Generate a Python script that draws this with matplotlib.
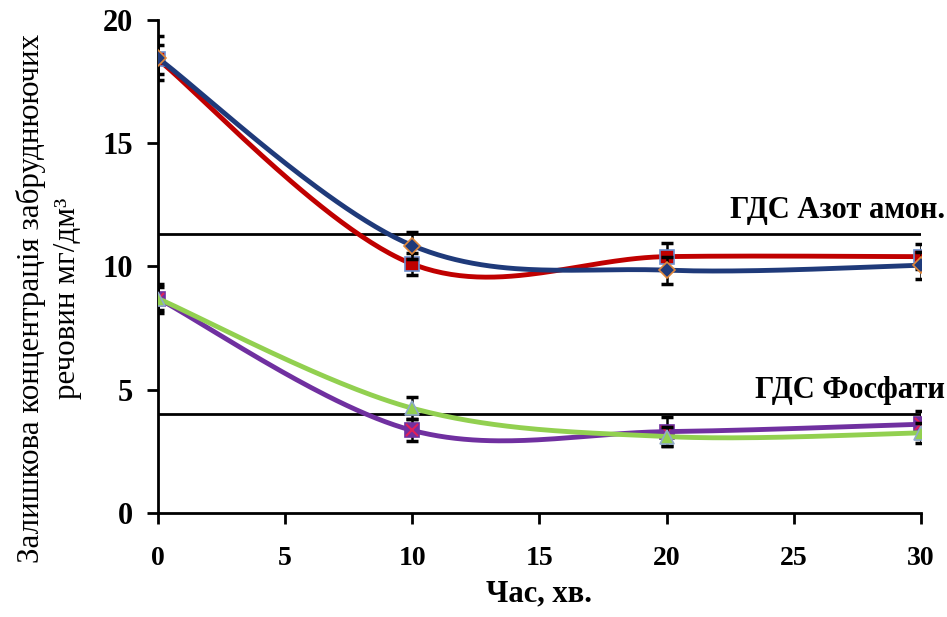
import numpy as np
import matplotlib
matplotlib.use('Agg')
import matplotlib.pyplot as plt

plt.rcParams['font.family'] = ['Liberation Serif', 'DejaVu Serif']

# Дані
time_min = [0, 10, 20, 30]
nitrogen_1 = [18.45, 10.85, 9.85, 10.05]   # синя крива
nitrogen_2 = [18.4, 10.1, 10.4, 10.4]      # червона крива
phosphate_1 = [8.7, 3.35, 3.3, 3.6]        # фіолетова крива
phosphate_2 = [8.7, 4.25, 3.1, 3.25]       # зелена крива
err_nitrogen_1 = [0.9, 0.55, 0.55, 0.55]
err_nitrogen_2 = [0.6, 0.45, 0.55, 0.5]
err_phosphate_1 = [0.6, 0.45, 0.6, 0.55]
err_phosphate_2 = [0.45, 0.45, 0.4, 0.4]
limit_nitrogen = 11.3
limit_phosphate = 4.0


def smooth(x, y, n=60):
    # згладжування як у Excel (Catmull-Rom через криві Безьє)
    x = np.asarray(x, float)
    y = np.asarray(y, float)
    px = np.concatenate([[x[0]], x, [x[-1]]])
    py = np.concatenate([[y[0]], y, [y[-1]]])
    t = np.linspace(0, 1, n)
    xs, ys = [], []
    for i in range(1, len(px) - 2):
        p0 = np.array([px[i], py[i]])
        p3 = np.array([px[i + 1], py[i + 1]])
        p1 = p0 + (np.array([px[i + 1], py[i + 1]]) - np.array([px[i - 1], py[i - 1]])) / 6
        p2 = p3 - (np.array([px[i + 2], py[i + 2]]) - np.array([px[i], py[i]])) / 6
        b = ((1 - t) ** 3)[:, None] * p0 + (3 * (1 - t) ** 2 * t)[:, None] * p1 \
            + (3 * (1 - t) * t ** 2)[:, None] * p2 + (t ** 3)[:, None] * p3
        xs.append(b[:, 0])
        ys.append(b[:, 1])
    return np.concatenate(xs), np.concatenate(ys)


fig = plt.figure(figsize=(9.47, 6.17), dpi=100)
ax = fig.add_axes([0.1668, 0.1686, 0.8057, 0.799])

ax.hlines([limit_nitrogen, limit_phosphate], 0, 30, color='black', lw=2, zorder=2)

series = [
    (nitrogen_2, err_nitrogen_2, '#C00000', 's', '#C00000', '#6A8FCF', 10),
    (nitrogen_1, err_nitrogen_1, '#1F3A7A', 'D', '#1F3A7A', '#E0873A', 8),
    (phosphate_1, err_phosphate_1, '#7030A0', 's', '#7030A0', '#7030A0', 10),
    (phosphate_2, err_phosphate_2, '#92D050', '^', '#92D050', '#8EA9C8', 10),
]
z = 3
for vals, err, col, mk, fc, ec, ms in series:
    ax.errorbar(time_min, vals, yerr=err, fmt='none', ecolor='black',
                elinewidth=1.8, capsize=4, capthick=2.5, zorder=z)
    sx, sy = smooth(time_min, vals)
    ax.plot(sx, sy, color=col, lw=3.5, zorder=z + 1)
    ax.plot(time_min, vals, ls='none', marker=mk, ms=ms, mfc=fc, mec=ec,
            mew=1.2, zorder=z + 2)
    if col == '#7030A0':
        ax.plot(time_min, vals, ls='none', marker='x', ms=9, mec='#E0205A',
                mew=1.5, zorder=z + 2)
    z += 3

ax.text(30.95, limit_nitrogen + 0.65, 'ГДС Азот амон.', ha='right', va='baseline',
        fontsize=22, fontweight='bold')
ax.text(30.95, limit_phosphate + 0.65, 'ГДС Фосфати', ha='right', va='baseline',
        fontsize=22, fontweight='bold')

ax.set_xlim(0, 30)
ax.set_ylim(0, 20)
ax.set_xticks([0, 5, 10, 15, 20, 25, 30])
ax.set_yticks([0, 5, 10, 15, 20])
for s in ['top', 'right']:
    ax.spines[s].set_visible(False)
for s in ['left', 'bottom']:
    ax.spines[s].set_linewidth(2)
    ax.spines[s].set_clip_on(False)
ax.tick_params(axis='both', direction='out', length=8, width=2)
ax.tick_params(axis='y', pad=10, labelsize=22)
ax.tick_params(axis='x', pad=16, labelsize=20)
for lbl in ax.get_xticklabels() + ax.get_yticklabels():
    lbl.set_fontweight('bold')

ax.set_xlabel('Час, хв.', fontsize=22, fontweight='bold', labelpad=6)
fig.text(0.052, 0.517, 'Залишкова концентрація забруднюючих\nречовин мг/дм³',
         rotation=90, ha='center', va='center', multialignment='center',
         fontsize=22.3, linespacing=1.3)

fig.savefig('out.png', dpi=100)
